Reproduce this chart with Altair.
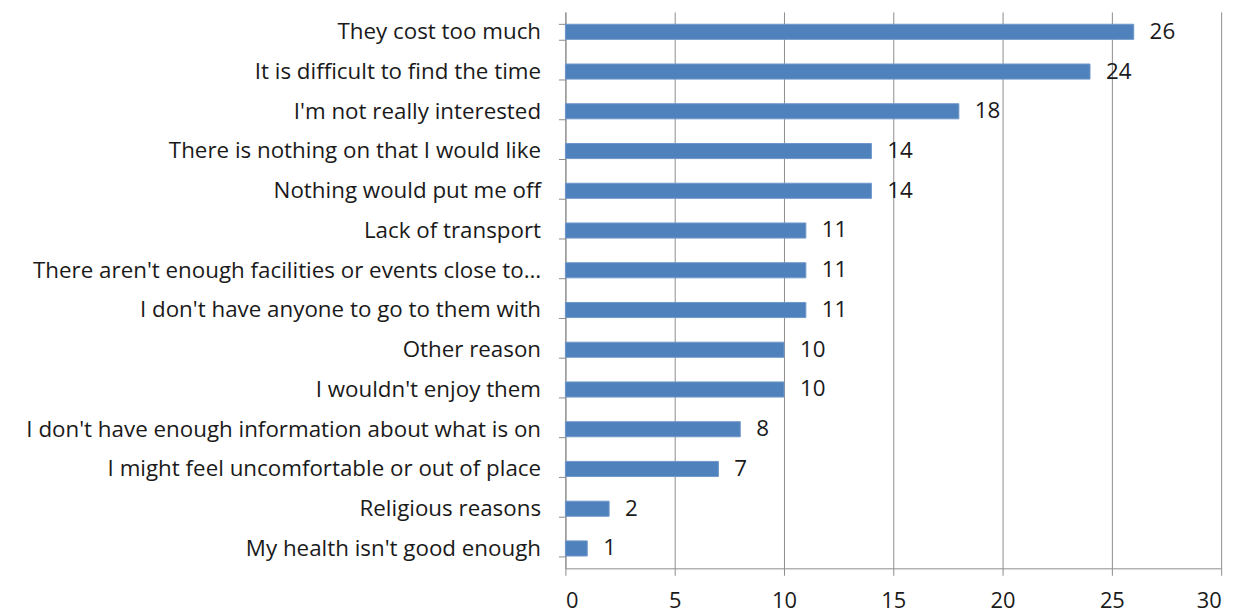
import altair as alt
import pandas as pd

reasons = [
    "They cost too much",
    "It is difficult to find the time",
    "I'm not really interested",
    "There is nothing on that I would like",
    "Nothing would put me off",
    "Lack of transport",
    "There aren't enough facilities or events close to…",
    "I don't have anyone to go to them with",
    "Other reason",
    "I wouldn't enjoy them",
    "I don't have enough information about what is on",
    "I might feel uncomfortable or out of place",
    "Religious reasons",
    "My health isn't good enough",
]
values = [26, 24, 18, 14, 14, 11, 11, 11, 10, 10, 8, 7, 2, 1]
x_ticks = [0, 5, 10, 15, 20, 25, 30]

df = pd.DataFrame({"reason": reasons, "value": values})

FONT = "Open Sans"
GRID = "#8c8c8c"
TEXT = "#1a1a1a"

y_enc = alt.Y(
    "reason:N",
    sort=reasons,
    title=None,
    scale=alt.Scale(paddingInner=0.62, paddingOuter=0.31),
    axis=alt.Axis(
        tickBand="extent",
        ticks=True,
        tickSize=7,
        tickColor=GRID,
        domainColor=GRID,
        labelFont=FONT,
        labelFontSize=22.5,
        labelColor=TEXT,
        labelPadding=18,
        labelLimit=600,
        grid=False,
    ),
)

x_enc = alt.X(
    "value:Q",
    title=None,
    scale=alt.Scale(domain=[0, 30], nice=False),
    axis=alt.Axis(
        values=x_ticks,
        grid=True,
        gridColor=GRID,
        tickColor=GRID,
        domainColor=GRID,
        tickSize=7,
        labelFont=FONT,
        labelFontSize=22,
        labelColor=TEXT,
        labelPadding=15,
    ),
)

bars = alt.Chart(df).mark_bar(color="#4F81BD", stroke="#6f97c9", strokeWidth=1).encode(
    x=x_enc, y=y_enc
)

labels = alt.Chart(df).mark_text(
    align="left", baseline="middle", dx=16, font=FONT, fontSize=22.5, color=TEXT
).encode(
    x="value:Q",
    y=alt.Y("reason:N", sort=reasons),
    text="value:Q",
)

chart = (
    alt.layer(bars, labels)
    .properties(
        width=660,
        height=560,
        autosize=alt.AutoSizeParams(type="none"),
        padding={"left": 561, "top": 2, "right": 25, "bottom": 46},
    )
    .configure(background="white")
    .configure_view(stroke=None)
)

chart.save("out.html", embed_options={"renderer": "svg", "actions": False})
